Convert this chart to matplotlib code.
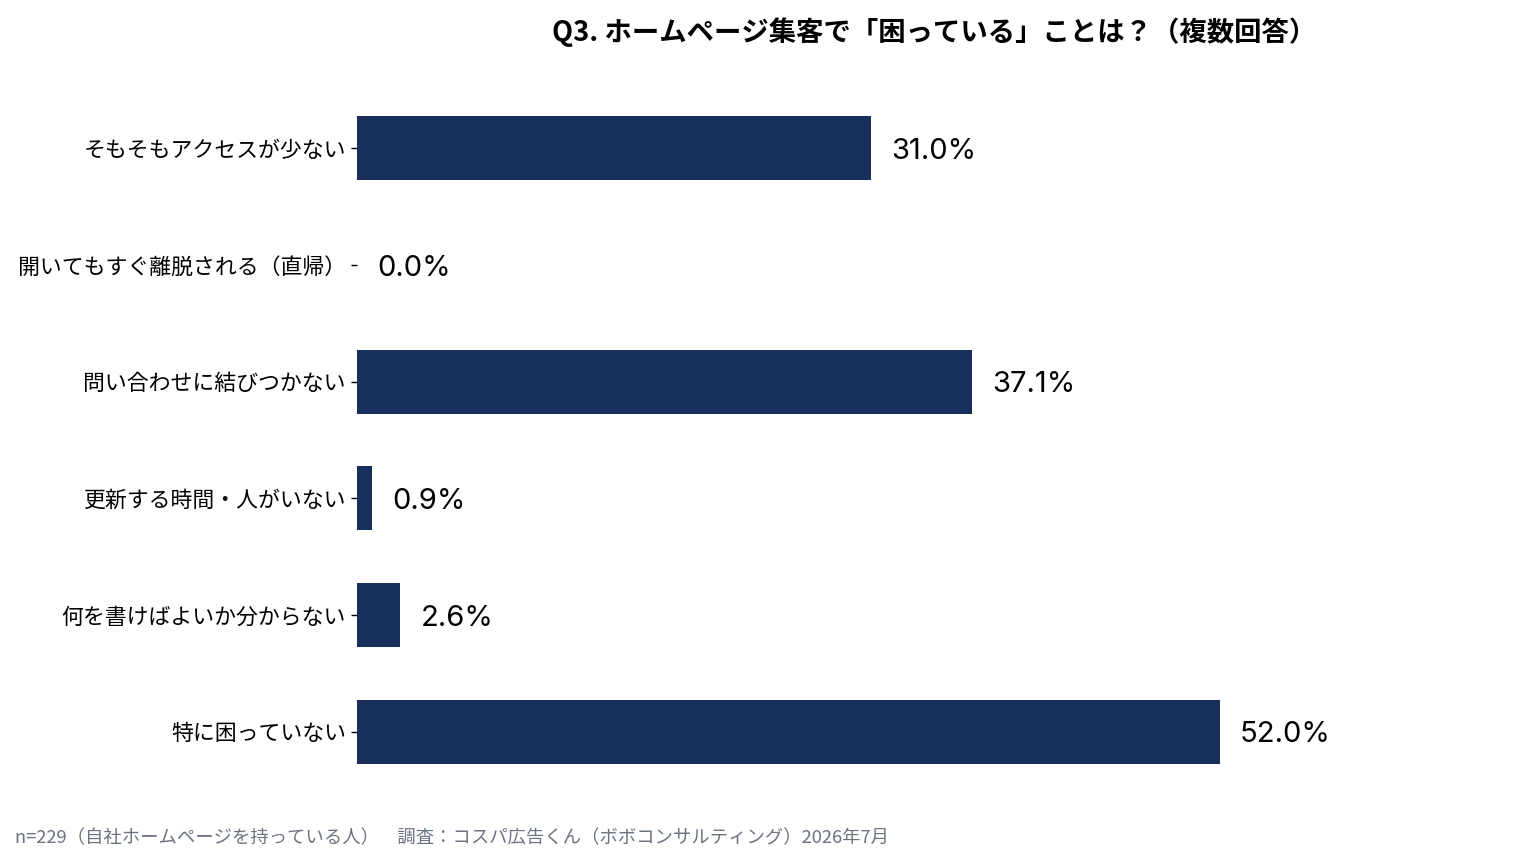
import matplotlib
matplotlib.use("Agg")
import matplotlib.pyplot as plt

plt.rcParams['font.family'] = ['Noto Sans CJK JP', 'DejaVu Sans']

categories = [
    "そもそもアクセスが少ない",
    "開いてもすぐ離脱される（直帰）",
    "問い合わせに結びつかない",
    "更新する時間・人がいない",
    "何を書けばよいか分からない",
    "特に困っていない",
]
values = [31.0, 0.0, 37.1, 0.9, 2.6, 52.0]
value_labels = ["31.0%", "0.0%", "37.1%", "0.9%", "2.6%", "52.0%"]

title = "Q3. ホームページ集客で「困っている」ことは？（複数回答）"
footnote = "n=229（自社ホームページを持っている人）　調査：コスパ広告くん（ボボコンサルティング）2026年7月"

bar_color = "#172f5a"

fig = plt.figure(figsize=(15.36, 8.58), dpi=100)
ax = fig.add_axes([357 / 1536, 1 - 790 / 858, (1505 - 357) / 1536, (790 - 90) / 858])

ypos = list(range(len(categories)))
ax.barh(ypos, values, height=0.55, color=bar_color)

# value labels to the right of each bar
for y, v, lab in zip(ypos, values, value_labels):
    ax.annotate(lab, xy=(v, y), xytext=(14.5, 0), textcoords="offset points",
                va="center_baseline", ha="left", fontsize=21, color="black",
                family=['Inter', 'DejaVu Sans'])

ax.set_yticks(ypos)
ax.set_yticklabels(categories, fontsize=15.75)
ax.set_ylim(len(categories) - 0.5, -0.5)
ax.set_xlim(0, 69.2)
ax.set_xticks([])
for s in ax.spines.values():
    s.set_visible(False)
ax.tick_params(axis="y", length=4, width=1, pad=4, color="black")

fig.text(934 / 1536, 1 - 32 / 858, title, ha="center", va="center",
         fontsize=19.7, fontweight="bold")
fig.text(15 / 1536, 1 - 838 / 858, footnote, ha="left", va="center",
         fontsize=13.2, color="#6b7280")

fig.savefig("out.png", dpi=100, facecolor="white")
